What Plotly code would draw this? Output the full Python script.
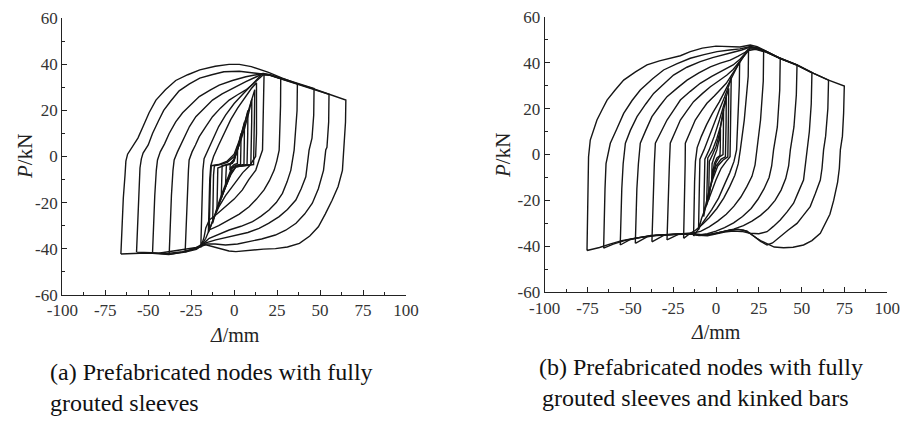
import plotly.graph_objects as go

# ---------------- data: panel (a) loops (x = Δ/mm, y = P/kN) ----------------
a_loop6 = [(-65.9,-42.3),(-65.2,-30),(-64.5,-18),(-63.5,-8),(-63,-2),(-62,1),(-59,4.5),(-56,8),(-53,13),(-49.5,19),
           (-45.5,24.5),(-40,29),(-34,33),(-27,35.5),(-20,37.6),(-11,39.2),(-3,40),(3,40),(10,39),(16,37.5),(20,36.5),
           (28,34),(37,31.5),(46.5,29.3),(55.5,27),(65,24.5),(64.8,15),(64,3),(63,-6),(60.5,-13),(57,-19),(53,-25),
           (49,-30.5),(44,-34.5),(38,-37.7),(31,-39.3),(24,-40),(17,-40.2),(11,-40.6),(5,-41),(1,-41.3),(-3,-41),
           (-8,-40),(-13,-39),(-16.5,-38.3),(-22,-39.5),(-32,-40.5),(-44,-42),(-55,-42),(-65.9,-42.3)]
a_loop5 = [(-56.8,-41.5),(-56.2,-28),(-55.5,-15),(-54.8,-5),(-54,-1),(-53,1.5),(-50,5),(-47.5,10),(-44,15.5),(-41,20),
           (-37,24),(-32,28.5),(-26,31.5),(-20,34),(-13,35.5),(-6,36.8),(3,37),(10,36.5),(16,36),(20,35.5),(28,33.5),
           (37,31.3),(46.5,29.2),(55.2,27),(55,15),(54,4),(53.3,2.8),(52,-6),(49,-14),(45.5,-20.3),(41,-25),(36,-29),
           (30,-32),(24,-34.1),(16,-35.8),(9,-37),(2,-38),(-5,-38.4),(-11,-38),(-16.5,-38),(-22,-40),(-30,-41.3),
           (-40,-42.2),(-48,-41.8),(-56.8,-41.5)]
a_loop4 = [(-47.5,-42),(-47,-30),(-46.2,-17),(-45.3,-6),(-44.6,-1.5),(-43,2),(-40.5,5.5),(-37.8,10),(-34,15),(-30,19),
           (-25,22.5),(-20.3,26),(-14,28.8),(-8.7,31),(-1,33),(6.8,34.6),(13,35.5),(17,36),(21,35.5),(28,33.8),
           (37,31.5),(46.5,29.5),(46.3,18),(45.3,8),(43.6,2.8),(41.7,-8.8),(39,-14),(35.9,-18.9),(31,-23),(26.2,-26.1),
           (20,-29),(14.5,-31.2),(8,-33),(1,-34.1),(-5,-35.2),(-10.7,-36.2),(-16.5,-37.5),(-22,-39.8),(-30,-41.5),
           (-38,-42.6),(-47.5,-42)]
a_loop3 = [(-37.8,-42.5),(-37.3,-30),(-36.5,-17),(-35.6,-6),(-34.9,-1.5),(-33,2),(-31,5),(-29,8.6),(-26,13),(-22.3,17.3),
           (-17.5,21),(-12.6,24.5),(-7,27.2),(-1,29.6),(6.8,32.5),(12,34.3),(16.5,35.8),(21,35.2),(28,33.5),(36.8,31.5),
           (36.6,20),(35.8,10),(34.9,2.8),(33,-5.9),(30.8,-11),(28.1,-16),(24.5,-20),(20.3,-23.2),(15.5,-26),
           (10.7,-28.3),(4,-30.3),(-2.9,-31.9),(-9,-33.8),(-14.5,-35.5),(-17.5,-37.5),(-22,-39.5),(-28.5,-41.5),
           (-37.8,-42.5)]
a_loop2 = [(-28.5,-41.5),(-28,-30),(-27.3,-17),(-26.6,-6),(-26.2,-1.5),(-24.5,2),(-22.5,5),(-20.3,8.6),(-16.5,13),
           (-12.6,17.3),(-8,21),(-2.9,24.5),(2,26.8),(6.8,28.9),(11,31.5),(14.5,34),(17,35.5),(21,35.3),(27.1,33.8),
           (27,22),(26.6,10),(26.2,2.8),(24.8,-2),(23.3,-5.9),(20.5,-10.5),(17.4,-14.5),(13,-18.5),(8.7,-21.8),
           (3,-25),(-2.9,-27.6),(-9,-30),(-14.5,-31.9),(-16.5,-35.5),(-19.4,-39),(-22,-40.3),(-28.5,-41.5)]
a_loop1 = [(-19.4,-39.5),(-19,-30),(-18.6,-17),(-18.2,-6),(-17.5,-1),(-15,3),(-12,8),(-9,13),(-5,18),(0,23),(5,27),
           (10,31),(14,34),(16.5,36),(17.4,35.5),(17.2,25),(16.8,12),(16.5,2.8),(14.5,-1.5),(12.6,-5.9),(8.5,-10),
           (4.8,-14.5),(0,-18.5),(-4.8,-21.8),(-10,-25),(-14.5,-27.6),(-16.5,-31),(-17.5,-35),(-19.4,-39.5)]
a_loop0 = [(-15,-33),(-14.7,-22),(-14.2,-10),(-13.6,-4),(-12,0),(-9,5),(-6,10),(-2,16),(2,21),(6,25.5),(10,29.5),
           (13,32),(13.2,22),(13,10),(12.5,0),(11,-2),(9,-4),(5,-7),(0,-12),(-5,-17),(-9,-22),(-12,-27),(-15,-33)]
a_small6 = [(-14.5,-32),(-14.2,-20),(-13.8,-10),(-13.3,-4),(-9,-3.5),(-4,-2),(0,1),(3,7),(6,14),(9,21),(11.5,27),
            (12,29),(11.8,18),(11.5,5),(11.3,-3.5),(6,-4),(1,-4.5),(-2,-8),(-6,-15),(-10,-23),(-14.5,-32)]
a_small1 = [(-12.5,-29),(-12.3,-18),(-12,-8),(-11.5,-4),(-8,-3.5),(-4,-2.5),(0,0),(3,5),(6,12),(8.5,19),(10.3,25),
            (10.2,15),(10,5),(9.7,-3.5),(5,-4),(1,-4.5),(-2,-7),(-5,-12),(-8,-18),(-10.5,-23.5),(-12.5,-29)]
a_small2 = [(-10,-23),(-9.8,-14),(-9.5,-5),(-6,-4),(-2,-3),(0,-1),(2,3),(4,8),(6,14),(8,20),(7.9,10),(7.7,0),
            (7.5,-3.5),(4,-4),(1,-4.5),(-2,-7.5),(-5,-13),(-7.5,-18),(-10,-23)]
a_small3 = [(-7.5,-18),(-7.3,-10),(-7,-4),(-3,-3.5),(0,-1.5),(2,3),(4,9),(6,15),(5.9,6),(5.7,-3.5),(2,-4),(-1,-5),
            (-3,-9),(-5.5,-14),(-7.5,-18)]
a_small4 = [(-5,-12),(-4.8,-6),(-4.5,-3.5),(-1,-3),(1,1),(2.5,5),(4,10),(3.9,3),(3.7,-3.5),(1,-3.8),(-1.5,-5),
            (-3.5,-9),(-5,-12)]
a_small5 = [(-2.5,-6),(-2.3,-3.5),(0,-2),(1,1),(2,4.5),(1.9,-3),(0,-3.5),(-1.5,-4.5),(-2.5,-6)]
a_loops = [a_loop6, a_loop5, a_loop4, a_loop3, a_loop2, a_loop1, a_loop0,
           a_small6, a_small1, a_small2, a_small3, a_small4, a_small5]

# ---------------- data: panel (b) loops ----------------
b_loop7 = [(-75.3,-41.8),(-75,-30),(-74.8,-15),(-74.4,-1),(-73.4,6.3),(-71.5,10.5),(-69.5,15),(-66.5,19.5),(-63.6,23.7),
           (-59,28),(-53.9,32.4),(-47,36),(-40.3,39),(-33,40.8),(-26.7,41.9),(-20.8,43),(-15,44.8),(-8,46.3),(0,47.2),
           (7,47),(14,46.8),(20,47.7),(24,47),(29.8,44.8),(37.5,41.9),(47.3,39),(57,35.3),(65.7,32.4),(74.9,29.8),
           (74.5,18),(73.8,8),(72.6,2),(72,-6),(71,-12),(68.7,-20),(66.5,-26),(63.5,-30.5),(60.9,-34.3),(56,-37.5),
           (51.1,-39.4),(45,-40.4),(39.5,-40.6),(34,-40.3),(30,-39),(26,-37.5),(23.9,-36.5),(20,-34.5),(16.1,-32.9),
           (12,-32.5),(8.3,-33),(4,-33.8),(0.6,-34.3),(-3,-34.8),(-7.2,-35),(-11,-34.6),(-15,-34.3),(-20,-34.5),
           (-28,-35),(-38.4,-35.5),(-48,-36.5),(-55,-37.5),(-62,-39),(-68,-40.5),(-75.3,-41.8)]
b_loop6 = [(-65.6,-40.8),(-65.3,-28),(-64.8,-15),(-64.2,-4),(-61.7,4.9),(-58,11),(-53.9,17.9),(-49,23.5),(-44.2,28.1),
           (-37,33),(-30.6,36.8),(-23,39.5),(-15,41.9),(-7,43.5),(0.6,44.8),(8,45.5),(14,46),(20,47),(24,46.5),
           (29.8,44.8),(37.5,41.9),(47.3,39),(57,35.3),(65.7,32.4),(65.3,20),(64,8),(62.8,2),(61.9,-6),(60.9,-11.1),
           (58,-17),(55,-22.7),(51,-26.5),(47.3,-30),(42,-33),(37.5,-35.8),(33,-38.5),(29.8,-39.4),(26,-37.8),
           (22,-35.5),(18,-33.3),(13,-32.6),(8,-33),(3,-33.8),(-2,-34.6),(-8,-35.2),(-15,-34.5),(-25,-34.8),
           (-38,-35.3),(-52,-37.2),(-60,-39),(-65.6,-40.8)]
b_loop5 = [(-55.9,-39.4),(-55.6,-28),(-55,-15),(-54.2,-4),(-52.9,4.9),(-50,10.5),(-46.1,16.5),(-41,22),(-36.4,26.6),
           (-30,31),(-24.8,34.6),(-17,38),(-9.2,40.4),(-2,42.2),(4.4,43.3),(10,44.5),(15,45.5),(20,46.8),(24,46.3),
           (29.8,44.6),(37.5,41.8),(47.3,38.8),(56,35.5),(55.6,22),(54.5,10),(53.1,2),(52.3,-5),(51.1,-11.1),
           (48,-16.5),(45.3,-21.2),(41.5,-25),(37.5,-28.5),(33.5,-31.3),(29.8,-33.6),(25,-34.5),(20,-34.3),
           (15,-33.5),(10,-33.3),(5,-33.8),(0,-34.5),(-5,-35.4),(-10,-35.2),(-15,-34.4),(-25,-34.7),(-35,-35.1),
           (-45,-36.2),(-50,-37),(-55.9,-39.4)]
b_loop4 = [(-47.1,-38.7),(-46.8,-28),(-46.2,-15),(-45.3,-4),(-44.2,4.9),(-41,10.5),(-37.4,16.5),(-33,21),(-28.6,25.2),
           (-22.5,29),(-16.9,32.4),(-10,35.5),(-3.3,38.2),(2.5,39.8),(8.3,41.1),(13,42.8),(17,44.5),(20,46.5),
           (24,46.2),(29.8,44.5),(37.5,41.7),(47.3,39),(46.9,26),(45.5,12),(43.4,2),(42.4,-5),(40.7,-10.5),
           (38,-15.5),(34.5,-20),(30.5,-23.5),(26,-26.5),(21,-29),(16,-31),(10.3,-32.5),(5,-33.6),(0,-34.3),
           (-5,-35),(-10,-35.3),(-15,-34.5),(-25,-34.8),(-35,-35.2),(-40,-35.8),(-47.1,-38.7)]
b_loop3 = [(-37.4,-38),(-37.1,-28),(-36.6,-15),(-36,-4),(-35.4,4.9),(-32,9.8),(-28.6,15),(-24.5,19.5),(-20.8,23.7),
           (-15,27.5),(-9.2,31),(-2.5,34),(4.4,36.8),(10,39),(14,41.5),(17,44),(20,46),(24,46),(29.8,44.4),
           (37.5,41.9),(37.2,28),(35.8,12),(33.6,2),(32.5,-5),(31,-10),(28,-15),(24.5,-19.5),(20.5,-23.5),
           (15.5,-27),(10.3,-29.8),(5,-31.8),(0,-33.4),(-5,-34.5),(-10,-35),(-15,-34.6),(-22,-34.8),(-30,-35),
           (-37.4,-38)]
b_loop2 = [(-28.6,-37.2),(-28.3,-28),(-27.8,-15),(-27.2,-4),(-26.7,4.9),(-24,9.5),(-20.8,15),(-17,19),(-13.1,23),
           (-8,26.5),(-3.3,29.5),(1.5,32),(6.4,34.6),(10,37),(13.5,40),(16.5,43),(19,45.3),(23,45.8),(27.8,44.8),
           (27.6,32),(26,15),(23.9,2),(22.8,-4.5),(21,-9.5),(18,-14),(14.5,-18.5),(10.5,-22.5),(6,-26),(1,-29),
           (-4,-31.5),(-9,-33.5),(-15,-34.4),(-22,-34.8),(-28.6,-37.2)]
b_loop1 = [(-18.9,-36.5),(-18.6,-28),(-18.3,-15),(-18,-4),(-17.9,4.9),(-15,10),(-12.1,15),(-8.5,19),(-5.3,22.3),
           (-1,25.5),(2.5,28.1),(6,31),(9,34.5),(12,38),(15,41.5),(17.5,44.2),(19,46),(18.8,34),(16.5,15),(14.2,2),
           (13,-4),(11,-9),(8,-14),(4.5,-19),(0.5,-23.5),(-4,-27.5),(-8,-30.5),(-12,-33),(-15,-34.3),(-18.9,-36.5)]
b_loop0 = [(-13.1,-35.5),(-12.9,-25),(-12.5,-12),(-12,-3),(-11,3),(-8.5,8),(-5.5,13),(-2,18),(2,23),(5.5,28),(9,33),
           (12,37.5),(13.8,40.4),(13.6,30),(12.8,12),(12,2),(10.5,-3),(8,-8),(5,-13),(1.5,-19),(-2.5,-24),
           (-6.5,-28.5),(-10,-32),(-13.1,-35.5)]
b_small1 = [(-10.2,-32.9),(-10,-22),(-9.7,-10),(-9.4,-2),(-7,2),(-4,8),(-1,14),(2,19.5),(5,25),(7.5,30),(8.9,33.9),
            (8.8,24),(8.5,10),(8.2,-1),(6,-3),(3,-6),(0,-11),(-3,-17),(-6,-22.5),(-8.5,-28),(-10.2,-32.9)]
b_small2 = [(-7.2,-27),(-7,-18),(-6.8,-8),(-6.5,-2),(-4,2),(-1,8),(2,15),(4.5,21),(6.5,26),(7.4,28.8),(7.3,18),
            (7.1,6),(6.9,-1),(4,-2.5),(1,-5),(-2,-11),(-4.5,-17),(-6,-22),(-7.2,-27)]
b_small3 = [(-5.5,-22),(-5.3,-14),(-5.1,-5),(-4.8,-1.5),(-2,2),(0.5,7),(2.5,12),(4.5,19),(6,25.2),(5.9,14),(5.7,3),
            (5.5,-1),(3,-2),(0,-5),(-2,-10),(-3.8,-16),(-5.5,-22)]
b_small4 = [(-4.3,-19.8),(-4.1,-10),(-3.9,-3),(-2,0),(0,3.5),(2,9),(3.5,14.5),(4.4,19.4),(4.3,9),(4.1,0),(2,-1),
            (0,-3.5),(-1.5,-7.5),(-3,-13),(-4.3,-19.8)]
b_small5 = [(-2.5,-11),(-2.3,-4),(-1,-1),(0.5,2),(1.8,6.5),(2.6,11),(2.5,3),(2.3,-0.5),(0.5,-1.5),(-1,-4),(-2.5,-11)]
b_loops = [b_loop7, b_loop6, b_loop5, b_loop4, b_loop3, b_loop2, b_loop1, b_loop0,
           b_small1, b_small2, b_small3, b_small4, b_small5]

# ---------------- axis tick data ----------------
x_tickvals = [-100, -75, -50, -25, 0, 25, 50, 75, 100]
x_ticktext = ["-100", "-75", "-50", "-25", "0", "25", "50", "75", "100"]
x_minor = [-87.5, -62.5, -37.5, -12.5, 12.5, 37.5, 62.5, 87.5]
y_tickvals = [-60, -40, -20, 0, 20, 40, 60]
y_ticktext = ["-60", "-40", "-20", "0", "20", "40", "60"]
y_minor = [-50, -30, -10, 10, 30, 50]

caption_a = ["(a) Prefabricated nodes with fully", "grouted sleeves"]
caption_b = ["(b) Prefabricated nodes with fully", "grouted sleeves and kinked bars"]

# ---------------- figure ----------------
W, H = 903, 427
LINE = dict(color="#161616", width=1.4)
FONT = "Liberation Serif"

fig = go.Figure()
for loop in a_loops:
    fig.add_trace(go.Scatter(x=[p[0] for p in loop], y=[p[1] for p in loop], mode="lines",
                             line=LINE, xaxis="x", yaxis="y", showlegend=False, hoverinfo="skip"))
for loop in b_loops:
    fig.add_trace(go.Scatter(x=[p[0] for p in loop], y=[p[1] for p in loop], mode="lines",
                             line=LINE, xaxis="x2", yaxis="y2", showlegend=False, hoverinfo="skip"))

def xaxis_cfg(domain, anchor):
    return dict(domain=domain, anchor=anchor, range=[-100, 100], tickmode="array", automargin=False,
                tickvals=x_tickvals, ticktext=x_ticktext, ticks="inside", ticklen=5, tickwidth=1.2,
                tickcolor="#222", showline=True, linecolor="#222", linewidth=1.3, showgrid=False,
                zeroline=False, tickfont=dict(family=FONT, size=17, color="#333"),
                minor=dict(tickvals=x_minor, ticks="inside", ticklen=3, tickwidth=1.1, tickcolor="#222",
                           showgrid=False))

def yaxis_cfg(domain, anchor):
    return dict(domain=domain, anchor=anchor, range=[-60, 60], tickmode="array", automargin=False,
                tickvals=y_tickvals, ticktext=y_ticktext, ticks="inside", ticklen=5, tickwidth=1.2,
                tickcolor="#222", showline=True, linecolor="#222", linewidth=1.3, showgrid=False,
                zeroline=False, tickfont=dict(family=FONT, size=17, color="#333"),
                minor=dict(tickvals=y_minor, ticks="inside", ticklen=3, tickwidth=1.1, tickcolor="#222",
                           showgrid=False))

fig.update_layout(
    width=W, height=H, margin=dict(l=0, r=0, t=0, b=0, autoexpand=False),
    paper_bgcolor="white", plot_bgcolor="white",
    xaxis=xaxis_cfg([62.3 / W, 406 / W], "y"),
    yaxis=yaxis_cfg([(H - 294.7) / H, (H - 18.3) / H], "x"),
    xaxis2=xaxis_cfg([544.7 / W, 887.3 / W], "y2"),
    yaxis2=yaxis_cfg([(H - 292.3) / H, (H - 16.7) / H], "x2"),
)

def ann(text, px, py, size, xanchor="center", angle=0, color="#222"):
    fig.add_annotation(text=text, x=px / W, y=(H - py) / H, xref="paper", yref="paper",
                       xanchor=xanchor, yanchor="middle", showarrow=False, textangle=angle,
                       font=dict(family=FONT, size=size, color=color))

ann("<i>P</i>/kN", 25, 157, 21, angle=-90)
ann("<i>P</i>/kN", 503, 156, 21, angle=-90)
ann("<i>Δ</i>/mm", 234.5, 335, 20)
ann("<i>Δ</i>/mm", 715.7, 332, 20)
ann(caption_a[0], 48, 372, 24, xanchor="left", color="#111")
ann(caption_a[1], 48, 403, 24, xanchor="left", color="#111")
ann(caption_b[0], 537, 367, 24, xanchor="left", color="#111")
ann(caption_b[1], 540, 398, 24, xanchor="left", color="#111")

fig.write_html("out.html", config={"displayModeBar": False},
               post_script="document.body.style.margin='0';document.body.style.overflow='hidden';")
